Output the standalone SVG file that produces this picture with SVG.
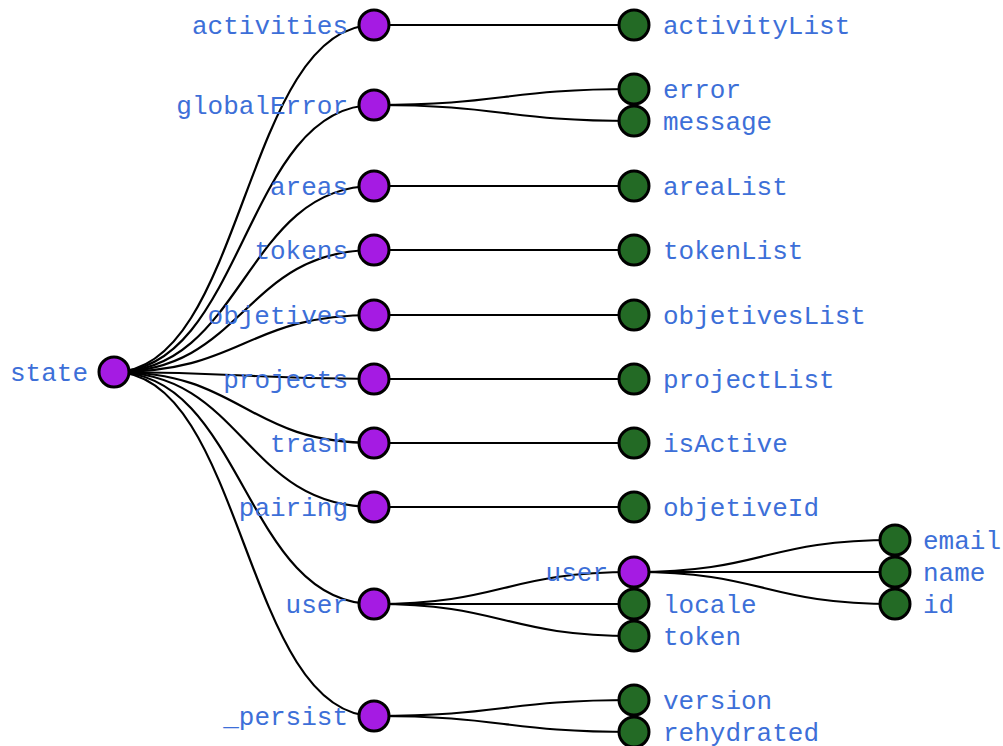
<svg xmlns="http://www.w3.org/2000/svg" width="1003" height="746" viewBox="0 0 1003 746">
<style>
.link{fill:none;stroke:#000;stroke-width:2.2}
.inner{fill:#a51be3;stroke:#000;stroke-width:3}
.leaf{fill:#236a25;stroke:#000;stroke-width:3}
text{font-family:"Liberation Mono","DejaVu Sans Mono",monospace;font-size:26px;fill:#3d6fd8}
.l{text-anchor:end}
</style>
<rect width="1003" height="746" fill="#fff"/>
<g id="links">
<path class="link" d="M114,372C244,372 244,25 374,25"/>
<path class="link" d="M114,372C244,372 244,105 374,105"/>
<path class="link" d="M114,372C244,372 244,186 374,186"/>
<path class="link" d="M114,372C244,372 244,250 374,250"/>
<path class="link" d="M114,372C244,372 244,315 374,315"/>
<path class="link" d="M114,372C244,372 244,379 374,379"/>
<path class="link" d="M114,372C244,372 244,443 374,443"/>
<path class="link" d="M114,372C244,372 244,507 374,507"/>
<path class="link" d="M114,372C244,372 244,604 374,604"/>
<path class="link" d="M114,372C244,372 244,716 374,716"/>
<path class="link" d="M374,25C504,25 504,25 634,25"/>
<path class="link" d="M374,105C504,105 504,89 634,89"/>
<path class="link" d="M374,105C504,105 504,121 634,121"/>
<path class="link" d="M374,186C504,186 504,186 634,186"/>
<path class="link" d="M374,250C504,250 504,250 634,250"/>
<path class="link" d="M374,315C504,315 504,315 634,315"/>
<path class="link" d="M374,379C504,379 504,379 634,379"/>
<path class="link" d="M374,443C504,443 504,443 634,443"/>
<path class="link" d="M374,507C504,507 504,507 634,507"/>
<path class="link" d="M374,604C504,604 504,572 634,572"/>
<path class="link" d="M374,604C504,604 504,604 634,604"/>
<path class="link" d="M374,604C504,604 504,636 634,636"/>
<path class="link" d="M374,716C504,716 504,700 634,700"/>
<path class="link" d="M374,716C504,716 504,732 634,732"/>
<path class="link" d="M634,572C764,572 764,540 895,540"/>
<path class="link" d="M634,572C764,572 764,572 895,572"/>
<path class="link" d="M634,572C764,572 764,604 895,604"/>
</g>
<g id="n-state"><circle class="inner" cx="114" cy="372" r="15"/><text class="l" x="88" y="381">state</text></g>
<g id="n-activities"><circle class="inner" cx="374" cy="25" r="15"/><text class="l" x="348" y="34">activities</text></g>
<g id="n-globalError"><circle class="inner" cx="374" cy="105" r="15"/><text class="l" x="348" y="114">globalError</text></g>
<g id="n-areas"><circle class="inner" cx="374" cy="186" r="15"/><text class="l" x="348" y="195">areas</text></g>
<g id="n-tokens"><circle class="inner" cx="374" cy="250" r="15"/><text class="l" x="348" y="259">tokens</text></g>
<g id="n-objetives"><circle class="inner" cx="374" cy="315" r="15"/><text class="l" x="348" y="324">objetives</text></g>
<g id="n-projects"><circle class="inner" cx="374" cy="379" r="15"/><text class="l" x="348" y="388">projects</text></g>
<g id="n-trash"><circle class="inner" cx="374" cy="443" r="15"/><text class="l" x="348" y="452">trash</text></g>
<g id="n-pairing"><circle class="inner" cx="374" cy="507" r="15"/><text class="l" x="348" y="516">pairing</text></g>
<g id="n-user"><circle class="inner" cx="374" cy="604" r="15"/><text class="l" x="348" y="613">user</text></g>
<g id="n-persist"><circle class="inner" cx="374" cy="716" r="15"/><text class="l" x="348" y="725">_persist</text></g>
<g id="n-activityList"><circle class="leaf" cx="634" cy="25" r="15"/><text x="663" y="34">activityList</text></g>
<g id="n-error"><circle class="leaf" cx="634" cy="89" r="15"/><text x="663" y="98">error</text></g>
<g id="n-message"><circle class="leaf" cx="634" cy="121" r="15"/><text x="663" y="130">message</text></g>
<g id="n-areaList"><circle class="leaf" cx="634" cy="186" r="15"/><text x="663" y="195">areaList</text></g>
<g id="n-tokenList"><circle class="leaf" cx="634" cy="250" r="15"/><text x="663" y="259">tokenList</text></g>
<g id="n-objetivesList"><circle class="leaf" cx="634" cy="315" r="15"/><text x="663" y="324">objetivesList</text></g>
<g id="n-projectList"><circle class="leaf" cx="634" cy="379" r="15"/><text x="663" y="388">projectList</text></g>
<g id="n-isActive"><circle class="leaf" cx="634" cy="443" r="15"/><text x="663" y="452">isActive</text></g>
<g id="n-objetiveId"><circle class="leaf" cx="634" cy="507" r="15"/><text x="663" y="516">objetiveId</text></g>
<g id="n-user-user"><circle class="inner" cx="634" cy="572" r="15"/><text class="l" x="608" y="581">user</text></g>
<g id="n-locale"><circle class="leaf" cx="634" cy="604" r="15"/><text x="663" y="613">locale</text></g>
<g id="n-token"><circle class="leaf" cx="634" cy="636" r="15"/><text x="663" y="645">token</text></g>
<g id="n-version"><circle class="leaf" cx="634" cy="700" r="15"/><text x="663" y="709">version</text></g>
<g id="n-rehydrated"><circle class="leaf" cx="634" cy="732" r="15"/><text x="663" y="741">rehydrated</text></g>
<g id="n-email"><circle class="leaf" cx="895" cy="540" r="15"/><text x="923" y="549">email</text></g>
<g id="n-name"><circle class="leaf" cx="895" cy="572" r="15"/><text x="923" y="581">name</text></g>
<g id="n-id"><circle class="leaf" cx="895" cy="604" r="15"/><text x="923" y="613">id</text></g>
</svg>
